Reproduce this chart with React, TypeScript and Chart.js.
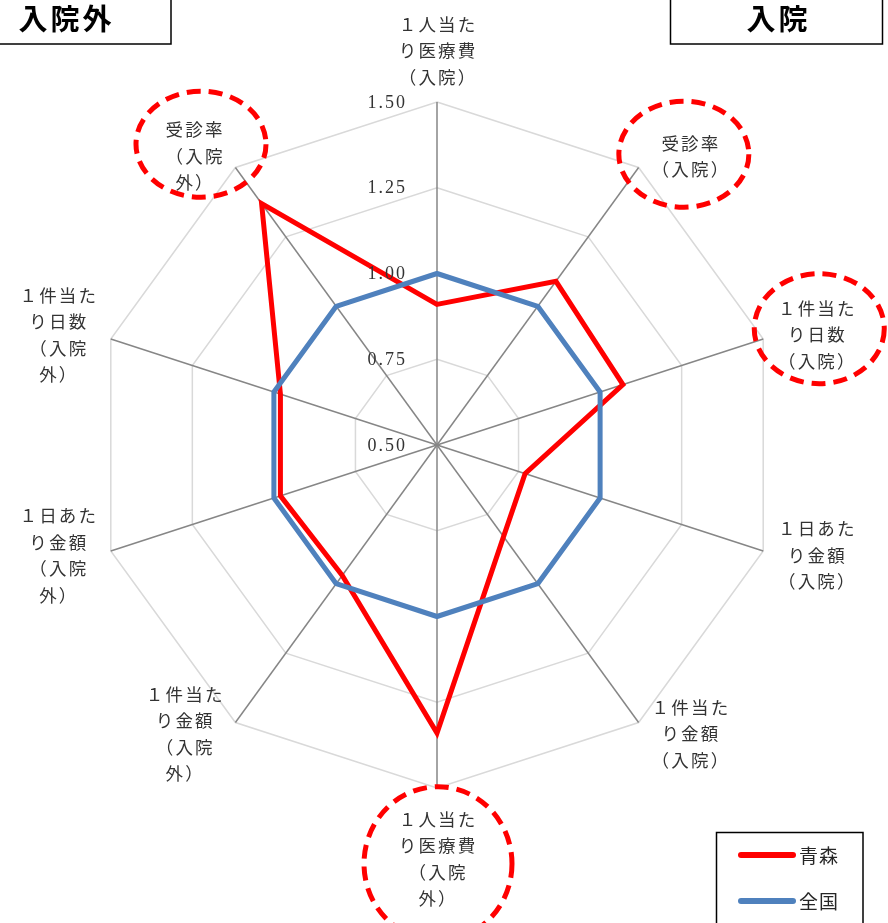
import { useEffect, useRef } from "react";
import { Chart, registerables } from "chart.js";

Chart.register(...registerables);

// ---- data ----
const categories: string[][] = [
  ["１人当た", "り医療費", "（入院）"],
  ["受診率", "（入院）"],
  ["１件当た", "り日数", "（入院）"],
  ["１日あた", "り金額", "（入院）"],
  ["１件当た", "り金額", "（入院）"],
  ["１人当た", "り医療費", "（入院", "外）"],
  ["１件当た", "り金額", "（入院", "外）"],
  ["１日あた", "り金額", "（入院", "外）"],
  ["１件当た", "り日数", "（入院", "外）"],
  ["受診率", "（入院", "外）"],
];
const seriesNames = ["青森", "全国"];
const aomoriValues = [0.91, 1.09, 1.07, 0.77, 0.83, 1.34, 0.97, 0.98, 0.98, 1.37];
const nationalValues = [1.0, 1.0, 1.0, 1.0, 1.0, 1.0, 1.0, 1.0, 1.0, 1.0];
const scaleMin = 0.5;
const scaleMax = 1.5;
const scaleStep = 0.25;
const highlightedLabels = [1, 2, 5, 9];
const sectionTitles = ["入院外", "入院"];

// ---- styles ----
const LABEL_FONT = '17.5px "Noto Sans CJK JP", "Noto Sans CJK SC", sans-serif';
const TICK_FONT = '18px "Liberation Serif", "DejaVu Serif", serif';
const TITLE_FONT = 'bold 29px "Noto Sans CJK JP", sans-serif';
const LEGEND_FONT = '19px "Noto Sans CJK JP", sans-serif';
const highlightStyle: Record<number, { dx: number; dy: number; rx: number; ry: number }> = {
  1: { dx: -6, dy: -2, rx: 65, ry: 53 },
  2: { dx: 3, dy: -6, rx: 65, ry: 55 },
  5: { dx: 1, dy: 5, rx: 74, ry: 77 },
  9: { dx: 7, dy: -12, rx: 65, ry: 53 },
};

const overlayPlugin = {
  id: "overlay",
  afterDraw(chart: any) {
    const ctx: CanvasRenderingContext2D & { letterSpacing?: string } = chart.ctx;
    const scale = chart.scales.r;
    const n = categories.length;
    ctx.save();

    // tick labels
    ctx.font = TICK_FONT;
    ctx.fillStyle = "#333333";
    ctx.letterSpacing = "2px";
    ctx.textBaseline = "middle";
    ctx.textAlign = "left";
    scale.ticks.forEach((t: any) => {
      const label = Number(t.value).toFixed(2);
      const d = scale.getDistanceFromCenterForValue(t.value);
      const w = ctx.measureText(label).width - 2;
      ctx.fillText(label, scale.xCenter - 32 - w, scale.yCenter - d + 1);
    });

    // point labels
    ctx.font = LABEL_FONT;
    ctx.letterSpacing = "2.2px";
    ctx.fillStyle = "#333333";
    const LH = 26.5;
    const blocks: { cx: number; cy: number }[] = [];
    for (let i = 0; i < n; i++) {
      const lines = categories[i];
      const p = scale.getPointPosition(i, scale.drawingArea);
      const angle = (360 / n) * i;
      const rad = (angle * Math.PI) / 180;
      const widths = lines.map((l) => ctx.measureText(l).width - 2.2);
      const W = Math.max(...widths);
      const H = lines.length * LH;
      let cx: number;
      let top: number;
      if (angle === 0) {
        cx = p.x;
        top = p.y - 25 - (lines.length - 0.5) * LH;
      } else if (angle === 180) {
        cx = p.x;
        top = p.y + 31 - LH / 2;
      } else {
        const gap = 10 + 5 * Math.abs(Math.sin(rad));
        cx = angle < 180 ? p.x + gap + W / 2 : p.x - gap - W / 2;
        top = p.y - 14 * Math.cos(rad) - H / 2;
      }
      lines.forEach((l, k) => ctx.fillText(l, cx - widths[k] / 2, top + LH * (k + 0.5)));
      blocks.push({ cx, cy: top + H / 2 });
    }

    // highlight ellipses
    ctx.strokeStyle = "#ff0000";
    ctx.lineWidth = 5;
    ctx.setLineDash([14, 8]);
    highlightedLabels.forEach((i) => {
      const s = highlightStyle[i];
      const b = blocks[i];
      ctx.beginPath();
      ctx.ellipse(b.cx + s.dx, b.cy + s.dy, s.rx, s.ry, 0, 0, Math.PI * 2);
      ctx.stroke();
    });
    ctx.setLineDash([]);

    // section title boxes
    ctx.strokeStyle = "#000000";
    ctx.lineWidth = 1.5;
    ctx.strokeRect(-10, -10, 181, 54);
    ctx.strokeRect(670.5, -10, 212, 54);
    ctx.font = TITLE_FONT;
    ctx.letterSpacing = "3px";
    ctx.fillStyle = "#000000";
    const titleCenters = [65, 777];
    sectionTitles.forEach((t, k) => {
      const w = ctx.measureText(t).width - 3;
      ctx.fillText(t, titleCenters[k] - w / 2, 19);
    });

    // legend
    ctx.strokeRect(716.5, 832.5, 146.5, 120);
    ctx.font = LEGEND_FONT;
    ctx.letterSpacing = "1px";
    ctx.lineCap = "round";
    chart.data.datasets.forEach((ds: any, k: number) => {
      const y = 855 + k * 46;
      ctx.strokeStyle = ds.borderColor;
      ctx.lineWidth = 6;
      ctx.beginPath();
      ctx.moveTo(741, y);
      ctx.lineTo(793, y);
      ctx.stroke();
      ctx.fillStyle = "#262626";
      ctx.fillText(ds.label, 799, y + 1);
    });

    ctx.restore();
  },
};

export default function App() {
  const canvasRef = useRef<HTMLCanvasElement | null>(null);

  useEffect(() => {
    if (!canvasRef.current) return;
    const chart = new Chart(canvasRef.current, {
      type: "radar",
      data: {
        labels: categories,
        datasets: [
          {
            label: seriesNames[0],
            data: aomoriValues,
            borderColor: "#ff0000",
            backgroundColor: "rgba(0,0,0,0)",
            borderWidth: 5,
            fill: false,
            pointRadius: 0,
            pointHoverRadius: 0,
            borderJoinStyle: "miter",
            order: 1,
          },
          {
            label: seriesNames[1],
            data: nationalValues,
            borderColor: "#4f81bd",
            backgroundColor: "rgba(0,0,0,0)",
            borderWidth: 5,
            fill: false,
            pointRadius: 0,
            pointHoverRadius: 0,
            borderJoinStyle: "round",
            order: 0,
          },
        ],
      },
      options: {
        responsive: false,
        animation: false,
        devicePixelRatio: 1,
        layout: { padding: { left: 94, right: 108, top: 102, bottom: 135 } },
        plugins: {
          legend: { display: false },
          tooltip: { enabled: false },
        },
        scales: {
          r: {
            min: scaleMin,
            max: scaleMax,
            ticks: { display: false, stepSize: scaleStep },
            grid: { color: "#d9d9d9", lineWidth: 1.5 },
            angleLines: { color: "#868686", lineWidth: 1.5 },
            pointLabels: { display: false },
          },
        },
      } as any,
      plugins: [overlayPlugin],
    });
    return () => chart.destroy();
  }, []);

  return (
    <div style={{ position: "absolute", left: 0, top: 0, width: 888, height: 923, background: "#ffffff" }}>
      <canvas ref={canvasRef} width={888} height={923} style={{ display: "block", width: 888, height: 923 }} />
    </div>
  );
}
